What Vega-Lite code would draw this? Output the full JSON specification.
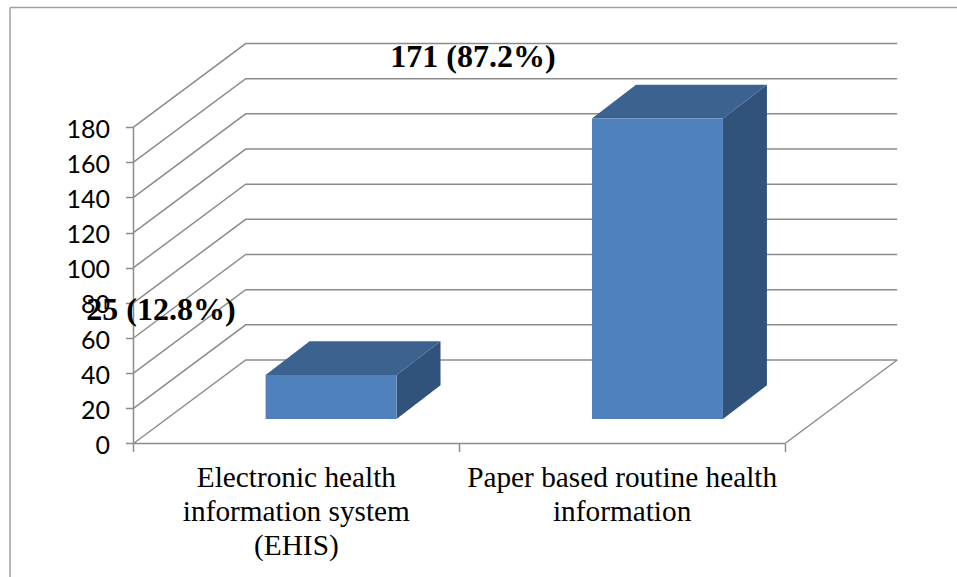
{
  "$schema": "https://vega.github.io/schema/vega-lite/v6.json",
  "width": 957,
  "height": 577,
  "padding": 0,
  "autosize": {"type": "none"},
  "background": "white",
  "config": {
    "view": {"stroke": null},
    "axisX": {"title": null, "labels": false, "domain": false, "grid": false, "offset": -133.5, "tickSize": 8, "tickColor": "#8c8c8c", "tickWidth": 1.5},
    "axisY": {"title": null, "domain": false, "grid": false, "offset": -133.5, "tickSize": 8, "tickColor": "#8c8c8c", "tickWidth": 1.5, "labelFont": "Lato", "labelFontSize": 25, "labelColor": "#000000", "labelPadding": 16, "labelOffset": 2}
  },
  "datasets": {
    "bars": [
      {"i": 0, "category": "Electronic health\ninformation system\n(EHIS)", "value": 25, "label": "25 (12.8%)"},
      {"i": 1, "category": "Paper based routine health\ninformation", "value": 171, "label": "171 (87.2%)"}
    ],
    "grid": [{"v": 0}, {"v": 20}, {"v": 40}, {"v": 60}, {"v": 80}, {"v": 100}, {"v": 120}, {"v": 140}, {"v": 160}, {"v": 180}],
    "one": [{"frame": 1}]
  },
  "layer": [
    {
      "data": {"name": "grid"},
      "transform": [
        {"calculate": "[0,1,2]", "as": "d"},
        {"flatten": ["d"]},
        {"calculate": "datum.d==0 ? 0 : datum.d==1 ? 0.3444 : 2.3444", "as": "gx"},
        {"calculate": "datum.v + (datum.d>0 ? 47.5 : 0)", "as": "gy"}
      ],
      "mark": {"type": "line", "color": "#8c8c8c", "strokeWidth": 1.5},
      "encoding": {
        "x": {"field": "gx", "type": "quantitative",
          "scale": {"domain": [-0.40982, 2.52801], "nice": false, "zero": false},
          "axis": {"values": [0, 1, 2], "title": null}},
        "y": {"field": "gy", "type": "quantitative",
          "scale": {"domain": [-75.94, 252.27], "nice": false, "zero": false},
          "axis": {"values": [0, 20, 40, 60, 80, 100, 120, 140, 160, 180], "title": null}},
        "detail": {"field": "v"}
      }
    },
    {
      "data": {"name": "one"},
      "mark": {"type": "rule", "color": "#8c8c8c", "strokeWidth": 1.5},
      "encoding": {"x": {"datum": 0}, "y": {"datum": 0}, "y2": {"datum": 180}}
    },
    {
      "data": {"name": "one"},
      "mark": {"type": "rule", "color": "#8c8c8c", "strokeWidth": 1.5},
      "encoding": {"x": {"datum": 0}, "x2": {"datum": 2}, "y": {"datum": 0}}
    },
    {
      "data": {"name": "one"},
      "mark": {"type": "rule", "color": "#8c8c8c", "strokeWidth": 1.5},
      "encoding": {"x": {"datum": 2}, "x2": {"datum": 2.3444}, "y": {"datum": 0}, "y2": {"datum": 47.5}}
    },
    {
      "data": {"name": "one"},
      "mark": {"type": "rule", "color": "#a0a0a0", "strokeWidth": 1.5},
      "encoding": {"x": {"datum": -0.379}, "y": {"datum": 248}, "y2": {"datum": -75.94}}
    },
    {
      "data": {"name": "one"},
      "mark": {"type": "rule", "color": "#a0a0a0", "strokeWidth": 1.5},
      "encoding": {"x": {"datum": -0.379}, "x2": {"datum": 2.52801}, "y": {"datum": 248}}
    },
    {
      "data": {"name": "bars"},
      "transform": [
        {"calculate": "[0,1]", "as": "d"},
        {"flatten": ["d"]},
        {"calculate": "datum.i*1.002 + 0.8075 + datum.d*0.135", "as": "sx"},
        {"calculate": "datum.value + 13.9 + datum.d*19.2", "as": "sy"},
        {"calculate": "13.9 + datum.d*19.2", "as": "sy2"}
      ],
      "mark": {"type": "area", "color": "#31527b", "interpolate": "linear"},
      "encoding": {
        "x": {"field": "sx", "type": "quantitative"},
        "y": {"field": "sy", "type": "quantitative"},
        "y2": {"field": "sy2"},
        "detail": {"field": "i"}
      }
    },
    {
      "data": {"name": "bars"},
      "transform": [
        {"calculate": "[0,1]", "as": "d"},
        {"flatten": ["d"]},
        {"calculate": "datum.i*1.002 + 0.4055 + datum.d*0.135", "as": "tx"},
        {"calculate": "datum.i*1.002 + 0.8075 + datum.d*0.135", "as": "tx2"},
        {"calculate": "datum.value + 13.9 + datum.d*19.2", "as": "ty"}
      ],
      "mark": {"type": "area", "color": "#3c628f", "orient": "horizontal", "interpolate": "linear"},
      "encoding": {
        "y": {"field": "ty", "type": "quantitative"},
        "x": {"field": "tx", "type": "quantitative"},
        "x2": {"field": "tx2"},
        "detail": {"field": "i"}
      }
    },
    {
      "data": {"name": "bars"},
      "transform": [
        {"calculate": "datum.i*1.002 + 0.4055", "as": "fx"},
        {"calculate": "datum.i*1.002 + 0.8075", "as": "fx2"},
        {"calculate": "datum.value + 13.9", "as": "fy"},
        {"calculate": "13.9", "as": "fy2"}
      ],
      "mark": {"type": "rect", "color": "#4f81bd"},
      "encoding": {
        "x": {"field": "fx", "type": "quantitative"},
        "x2": {"field": "fx2"},
        "y": {"field": "fy", "type": "quantitative"},
        "y2": {"field": "fy2"}
      }
    },
    {
      "data": {"name": "bars"},
      "transform": [
        {"calculate": "datum.i + 0.5", "as": "cx"},
        {"calculate": "-24.7", "as": "cy"}
      ],
      "mark": {"type": "text", "font": "Liberation Serif", "fontSize": 29.3, "lineBreak": "\n", "lineHeight": 34, "align": "center", "baseline": "alphabetic", "color": "#000000"},
      "encoding": {
        "x": {"field": "cx", "type": "quantitative"},
        "y": {"field": "cy", "type": "quantitative"},
        "text": {"field": "category"}
      }
    },
    {
      "data": {"name": "bars"},
      "transform": [
        {"calculate": "datum.i==0 ? 0.0844 : 1.042", "as": "lx"},
        {"calculate": "datum.i==0 ? 70.25 : 214.2", "as": "ly"}
      ],
      "mark": {"type": "text", "font": "Liberation Serif", "fontSize": 32, "fontWeight": "bold", "align": "center", "baseline": "alphabetic", "color": "#000000"},
      "encoding": {
        "x": {"field": "lx", "type": "quantitative"},
        "y": {"field": "ly", "type": "quantitative"},
        "text": {"field": "label"}
      }
    }
  ]
}
